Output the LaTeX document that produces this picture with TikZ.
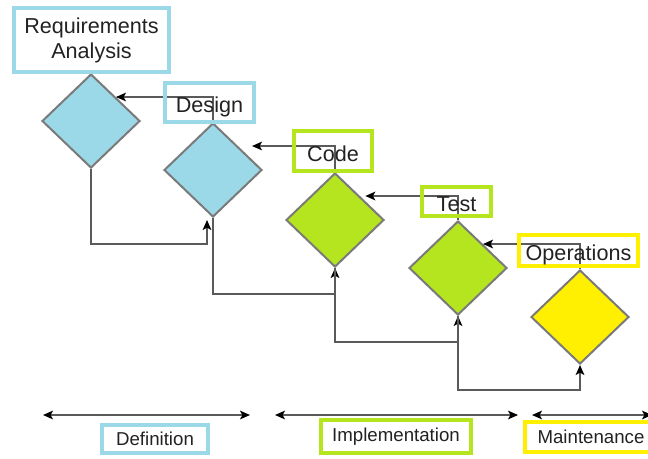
\documentclass[tikz,border=0pt]{standalone}
\usepackage{fontspec}
\setmainfont{Liberation Sans}
\usetikzlibrary{shapes.geometric,arrows.meta,calc}
\definecolor{defblue}{HTML}{9BD8E8}
\definecolor{impgreen}{HTML}{B4E51E}
\definecolor{mntyellow}{HTML}{FFEF00}
\definecolor{edgegray}{HTML}{7A7A7A}
\definecolor{linegray}{HTML}{5A5A5A}
\definecolor{inkdark}{HTML}{222222}
\begin{document}
\begin{tikzpicture}[x=0.75pt,y=-0.75pt,
  phase/.style={diamond, draw=edgegray, line width=1.5pt, inner sep=0pt,
    minimum width=73.5pt, minimum height=70.5pt},
  stagebox/.style={draw=#1, line width=3pt, inner sep=0pt, text=inkdark,
    font=\fontsize{16.2}{18.75}\selectfont},
  onelinetext/.style={text height=15pt, text depth=0pt},
  spanbox/.style={draw=#1, line width=3pt, inner sep=0pt, text=inkdark,
    font=\fontsize{14}{16}\selectfont},
  conn/.style={draw=linegray, line width=1.2pt,
    -{Stealth[length=7.5pt,width=6.5pt,inset=1.8pt,color=black]}},
  span/.style={draw=linegray, line width=1.2pt,
    {Stealth[length=7.5pt,width=6.5pt,inset=1.8pt,color=black]}-{Stealth[length=7.5pt,width=6.5pt,inset=1.8pt,color=black]}},
]
\useasboundingbox (0,0) rectangle (648,458);
\clip (0,0) rectangle (648,458);

% phase diamonds
\node[phase, fill=defblue]   (d1) at (91,121)  {};
\node[phase, fill=defblue]   (d2) at (213,170) {};
\node[phase, fill=impgreen]  (d3) at (335,220) {};
\node[phase, fill=impgreen]  (d4) at (458,268) {};
\node[phase, fill=mntyellow] (d5) at (580,317) {};

% feedback to the previous phase
\draw[conn] (d2.north) |- ($(d1.north)!0.5!(d1.east)$);
\draw[conn, shorten >=10.5pt] (d3.north) |- ($(d2.north)!0.5!(d2.east)$);
\draw[conn, shorten >=4pt] (d4.north) |- ($(d3.north)!0.5!(d3.east)$);
\draw[conn] (d5.north) |- ($(d4.north)!0.5!(d4.east)$);

% hand-over to the next phase
\draw[conn] (d1.south) -- ++(0,75) -| ($(d2.south)+(-6,2)$);
\draw[conn] (d2.south) -- ++(0,76) -| (d3.south);
\draw[conn] (d3.south) -- ++(0,74) -| (d4.south);
\draw[conn] (d4.south) -- ++(0,74) -| (d5.south);

% phase titles
\node[stagebox=defblue, minimum width=116.25pt, minimum height=48pt, align=center]
  (req) at (91.5,40) {Requirements\\Analysis};
\node[stagebox=defblue, onelinetext, minimum width=66.75pt, minimum height=29.25pt]
  (design) at (209.5,102.5) {Design};
\node[stagebox=impgreen, onelinetext, minimum width=58.5pt, minimum height=30pt]
  (code) at (333,151) {Code};
\node[stagebox=impgreen, onelinetext, minimum width=51.75pt, minimum height=21.75pt]
  (test) at (456.5,201.5) {Test};
\node[stagebox=mntyellow, onelinetext, minimum width=89.25pt, minimum height=23.25pt]
  (ops) at (578.5,250.5) {Operations};

% stage spans
\coordinate (s1a) at (43,415);  \coordinate (s1b) at (250,415);
\coordinate (s2a) at (275,415); \coordinate (s2b) at (518,415);
\coordinate (s3a) at (532,415); \coordinate (s3b) at (652,415);
\draw[span] (s1a) -- (s1b);
\draw[span] (s2a) -- (s2b);
\draw[span] (s3a) -- (s3b);

\node[spanbox=defblue, minimum width=79.5pt, minimum height=21pt]
  (def) at (155,439) {Definition};
\node[spanbox=impgreen, minimum width=112.5pt, minimum height=24.75pt]
  (impl) at (396,436.5) {Implementation};
\node[spanbox=mntyellow, minimum width=99pt, minimum height=22.5pt]
  (maint) at (591,437) {Maintenance};
\end{tikzpicture}
\end{document}
